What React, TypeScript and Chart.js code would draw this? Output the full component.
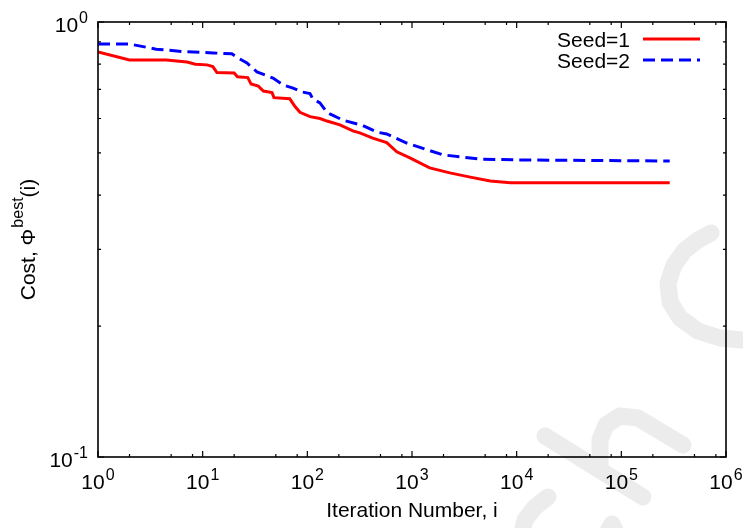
import React, { useEffect, useRef } from "react";
import { Chart, registerables } from "chart.js";

Chart.register(...registerables);

// ---- data ----
const seriesLabels = ["Seed=1", "Seed=2"];

const seed1X = [1, 2, 4.5, 7.1, 8.5, 11, 12.5, 13.7, 20, 21.5, 27, 29, 34, 38, 46, 48, 68, 76, 85, 106, 132, 154, 205, 272, 317, 422, 573, 716, 955, 1475, 2300, 3600, 5600, 8700, 10900, 290000];
const seed1Y = [0.853, 0.818, 0.818, 0.809, 0.800, 0.797, 0.790, 0.765, 0.763, 0.748, 0.745, 0.720, 0.712, 0.694, 0.688, 0.670, 0.666, 0.640, 0.620, 0.606, 0.600, 0.592, 0.580, 0.562, 0.556, 0.541, 0.528, 0.503, 0.487, 0.462, 0.450, 0.440, 0.431, 0.427, 0.427, 0.427];

const seed2X = [1, 2, 3.6, 6.5, 12.6, 19, 21, 26.5, 33, 40, 47, 59, 73, 90, 106, 113, 132, 154, 164, 218, 340, 464, 573, 890, 1970, 4500, 10000, 290000];
const seed2Y = [0.890, 0.890, 0.866, 0.855, 0.849, 0.845, 0.831, 0.805, 0.768, 0.755, 0.743, 0.716, 0.705, 0.690, 0.685, 0.665, 0.652, 0.620, 0.615, 0.595, 0.578, 0.558, 0.553, 0.527, 0.495, 0.484, 0.482, 0.479];

const xMajorTicks = [1, 10, 100, 1000, 10000, 100000, 1000000];
const xTickExponents = ["0", "1", "2", "3", "4", "5", "6"];
const xMinorMultipliers = [2, 5, 8];
const yMajorTicks = [0.1, 1];
const yTickExponents = ["-1", "0"];
const yMinorTicks = [0.2, 0.3, 0.4, 0.5, 0.6, 0.7, 0.8, 0.9];

const xTitle = "Iteration Number, i";
const yTitleMain = "Cost, Φ";
const yTitleSup = "best";
const yTitleTail = "(i)";

const FONT = "'Liberation Sans', Arial, Helvetica, sans-serif";

const watermarkPlugin = {
  id: "watermark",
  beforeDraw(chart: any) {
    const ctx = chart.ctx;
    ctx.save();
    ctx.strokeStyle = "#ececec";
    ctx.lineWidth = 17;
    ctx.lineCap = "round";
    ctx.lineJoin = "round";
    const paths = [
      [[711, 233], [698, 240], [685, 250], [674, 265], [668, 283], [670, 302], [680, 318], [698, 331], [720, 338], [752, 341]],
      [[545, 436], [643, 497]],
      [[600, 470], [600, 440], [606, 425], [620, 416], [638, 418], [683, 445]],
      [[548, 497], [535, 507], [525, 520], [520, 540]],
      [[603, 540], [612, 524], [620, 540]],
    ];
    for (const p of paths) {
      ctx.beginPath();
      ctx.moveTo(p[0][0], p[0][1]);
      for (let i = 1; i < p.length; i++) ctx.lineTo(p[i][0], p[i][1]);
      ctx.stroke();
    }
    ctx.restore();
  },
};

function drawPower(ctx: CanvasRenderingContext2D, base: string, exp: string, x: number, baseY: number, supY: number, align: "center" | "right") {
  ctx.font = `21px ${FONT}`;
  const wb = ctx.measureText(base).width;
  ctx.font = `16px ${FONT}`;
  const we = ctx.measureText(exp).width;
  const total = wb + we + 1;
  const start = align === "center" ? x - total / 2 : x - total;
  ctx.textAlign = "left";
  ctx.textBaseline = "alphabetic";
  ctx.font = `21px ${FONT}`;
  ctx.fillText(base, start, baseY);
  ctx.font = `16px ${FONT}`;
  ctx.fillText(exp, start + wb + 1, supY);
}

const framePlugin = {
  id: "frame",
  afterDraw(chart: any) {
    const ctx: CanvasRenderingContext2D = chart.ctx;
    const { left, right, top, bottom } = chart.chartArea;
    const xs = chart.scales.x;
    const ys = chart.scales.y;
    ctx.save();
    ctx.strokeStyle = "#000";
    ctx.fillStyle = "#000";
    ctx.lineWidth = 1.6;
    ctx.strokeRect(left, top, right - left, bottom - top);

    ctx.lineWidth = 1.2;
    ctx.beginPath();
    xMajorTicks.forEach((v, i) => {
      const px = xs.getPixelForValue(v);
      ctx.moveTo(px, bottom); ctx.lineTo(px, bottom - 6);
      ctx.moveTo(px, top); ctx.lineTo(px, top + 6);
      if (i < xMajorTicks.length - 1) {
        xMinorMultipliers.forEach((m) => {
          const mx = xs.getPixelForValue(v * m);
          ctx.moveTo(mx, bottom); ctx.lineTo(mx, bottom - 3);
          ctx.moveTo(mx, top); ctx.lineTo(mx, top + 3);
        });
      }
    });
    yMajorTicks.forEach((v) => {
      const py = ys.getPixelForValue(v);
      ctx.moveTo(left, py); ctx.lineTo(left + 6, py);
      ctx.moveTo(right, py); ctx.lineTo(right - 6, py);
    });
    yMinorTicks.forEach((v) => {
      const py = ys.getPixelForValue(v);
      ctx.moveTo(left, py); ctx.lineTo(left + 3, py);
      ctx.moveTo(right, py); ctx.lineTo(right - 3, py);
    });
    ctx.stroke();

    xMajorTicks.forEach((v, i) => {
      const px = xs.getPixelForValue(v);
      drawPower(ctx, "10", xTickExponents[i], px, bottom + 32, bottom + 23, "center");
    });
    yMajorTicks.forEach((v, i) => {
      const py = ys.getPixelForValue(v);
      drawPower(ctx, "10", yTickExponents[i], left - 10, py + 9.5, py + 0.5, "right");
    });

    ctx.font = `21px ${FONT}`;
    ctx.textAlign = "center";
    ctx.textBaseline = "alphabetic";
    ctx.fillText(xTitle, (left + right) / 2, 517);

    ctx.save();
    ctx.translate(35, (top + bottom) / 2);
    ctx.rotate(-Math.PI / 2);
    ctx.font = `21px ${FONT}`;
    const w1 = ctx.measureText(yTitleMain).width;
    const w3 = ctx.measureText(yTitleTail).width;
    ctx.font = `16px ${FONT}`;
    const w2 = ctx.measureText(yTitleSup).width;
    const tot = w1 + w2 + w3 + 1;
    let cx = -tot / 2;
    ctx.textAlign = "left";
    ctx.font = `21px ${FONT}`;
    ctx.fillText(yTitleMain, cx, 0);
    cx += w1 + 1;
    ctx.font = `16px ${FONT}`;
    ctx.fillText(yTitleSup, cx, -12);
    cx += w2;
    ctx.font = `21px ${FONT}`;
    ctx.fillText(yTitleTail, cx, 0);
    ctx.restore();

    const legendRows = [
      { textY: 46.5, lineY: 39 },
      { textY: 68, lineY: 60 },
    ];
    chart.data.datasets.forEach((ds: any, i: number) => {
      const r = legendRows[i];
      ctx.font = `21px ${FONT}`;
      ctx.textAlign = "right";
      ctx.fillStyle = "#000";
      ctx.fillText(ds.label, 630, r.textY);
      ctx.save();
      ctx.strokeStyle = ds.borderColor;
      ctx.lineWidth = ds.borderWidth;
      ctx.setLineDash(ds.borderDash || []);
      ctx.beginPath();
      ctx.moveTo(643, r.lineY);
      ctx.lineTo(700, r.lineY);
      ctx.stroke();
      ctx.restore();
    });
    ctx.restore();
  },
};

export default function App() {
  const ref = useRef<HTMLCanvasElement | null>(null);
  useEffect(() => {
    if (!ref.current) return;
    const chart = new Chart(ref.current, {
      type: "line",
      data: {
        datasets: [
          {
            label: seriesLabels[0],
            data: seed1X.map((x, i) => ({ x, y: seed1Y[i] })),
            borderColor: "#ff0000",
            borderWidth: 3,
            pointRadius: 0,
            fill: false,
            tension: 0,
          },
          {
            label: seriesLabels[1],
            data: seed2X.map((x, i) => ({ x, y: seed2Y[i] })),
            borderColor: "#0000ff",
            borderWidth: 3,
            borderDash: [12, 6],
            pointRadius: 0,
            fill: false,
            tension: 0,
          },
        ],
      },
      options: {
        animation: false,
        responsive: false,
        maintainAspectRatio: false,
        layout: { padding: { left: 98, right: 17, top: 22, bottom: 71 } },
        scales: {
          x: { type: "logarithmic", min: 1, max: 1000000, display: false },
          y: { type: "logarithmic", min: 0.1, max: 1, display: false },
        },
        plugins: { legend: { display: false }, tooltip: { enabled: false } },
      },
      plugins: [watermarkPlugin, framePlugin],
    } as any);
    return () => chart.destroy();
  }, []);
  return (
    <div style={{ position: "absolute", left: 0, top: 0, width: 743, height: 528, background: "#fff" }}>
      <canvas ref={ref} width={743} height={528} style={{ display: "block", width: 743, height: 528 }} />
    </div>
  );
}
